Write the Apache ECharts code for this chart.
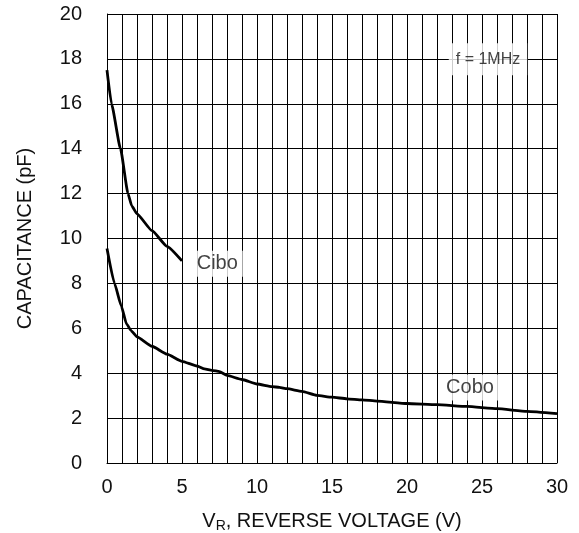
<!DOCTYPE html>
<html>
<head>
<meta charset="utf-8">
<script src="https://cdn.jsdelivr.net/npm/echarts@6/dist/echarts.min.js"></script>
<style>
  html, body { margin: 0; padding: 0; background: #fff; }
  #chart { width: 579px; height: 533px; }
</style>
</head>
<body>
<div id="chart"></div>
<script>
// Input capacitance (Cibo) vs reverse voltage
const ciboVoltage = [0, 0.3, 0.9, 1.4, 1.65, 2, 3, 4, 5];
const ciboCap     = [17.5, 16.0, 14.0, 12.0, 11.45, 11.1, 10.35, 9.65, 9.0];

// Output capacitance (Cobo) vs reverse voltage
const coboVoltage = [0, 0.5, 0.95, 1.3, 1.6, 2, 3, 4, 5, 6, 6.5, 7, 7.5, 8, 9, 10, 11, 11.5, 12, 13, 14, 15, 16, 17, 18, 20, 22, 24, 26, 28, 30];
const coboCap     = [9.55, 8.0, 7.0, 6.2, 5.9, 5.62, 5.2, 4.85, 4.53, 4.32, 4.19, 4.13, 4.07, 3.9, 3.72, 3.52, 3.4, 3.37, 3.31, 3.19, 3.01, 2.93, 2.86, 2.81, 2.76, 2.65, 2.6, 2.52, 2.42, 2.3, 2.2];

// In-plot annotations: text and anchor in data units
const noteText = ['Cibo', 'Cobo', 'f = 1MHz'];
const noteX    = [7.35, 24.2, 25.4];
const noteY    = [8.88, 3.36, 17.98];
const noteSize = [20, 20, 16];

const xTicks = [0, 5, 10, 15, 20, 25, 30];
const yTicks = [0, 2, 4, 6, 8, 10, 12, 14, 16, 18, 20];

const textColor = '#111';
const gridColor = '#000';
const font = 'Liberation Sans, Arial, sans-serif';

const zip = (a, b) => a.map((v, i) => [v, b[i]]);

const chart = echarts.init(document.getElementById('chart'), null, { renderer: 'canvas' });

chart.setOption({
  animation: false,
  backgroundColor: '#fff',
  grid: { left: 107, top: 14, width: 450, height: 449, containLabel: false, outerBoundsMode: 'none' },
  xAxis: {
    type: 'value',
    min: xTicks[0],
    max: xTicks[xTicks.length - 1],
    interval: 5,
    name: 'V{sub|R}, REVERSE VOLTAGE (V)',
    nameLocation: 'middle',
    nameGap: 46,
    nameTextStyle: {
      fontFamily: font,
      fontSize: 20,
      color: textColor,
      rich: {
        sub: { fontSize: 14, color: textColor, fontFamily: font, padding: [10, 0, 0, 0] }
      }
    },
    axisLine: { show: true, lineStyle: { color: gridColor, width: 1 } },
    axisTick: { show: false },
    axisLabel: { margin: 14, fontFamily: font, fontSize: 20, color: textColor },
    splitLine: { show: true, lineStyle: { color: gridColor, width: 1 } },
    minorTick: { show: false, splitNumber: 5 },
    minorSplitLine: { show: true, lineStyle: { color: gridColor, width: 1 } }
  },
  yAxis: {
    type: 'value',
    min: yTicks[0],
    max: yTicks[yTicks.length - 1],
    interval: 2,
    name: 'CAPACITANCE (pF)',
    nameLocation: 'middle',
    nameGap: 72,
    nameRotate: 90,
    nameTextStyle: { fontFamily: font, fontSize: 20, color: textColor },
    axisLine: { show: true, lineStyle: { color: gridColor, width: 1 } },
    axisTick: { show: false },
    axisLabel: { margin: 25, fontFamily: font, fontSize: 20, color: textColor },
    splitLine: { show: true, lineStyle: { color: gridColor, width: 1 } }
  },
  series: [
    {
      name: 'Cibo',
      type: 'line',
      data: zip(ciboVoltage, ciboCap),
      showSymbol: false,
      smooth: 0.15,
      smoothMonotone: 'x',
      lineStyle: { color: '#000', width: 2.8 },
      z: 5
    },
    {
      name: 'Cobo',
      type: 'line',
      data: zip(coboVoltage, coboCap),
      showSymbol: false,
      smooth: 0.15,
      smoothMonotone: 'x',
      lineStyle: { color: '#000', width: 2.8 },
      z: 5
    },
    {
      name: 'notes',
      type: 'scatter',
      symbolSize: 0,
      silent: true,
      z: 10,
      data: noteText.map((t, i) => ({
        value: [noteX[i], noteY[i]],
        label: {
          show: true,
          position: 'inside',
          formatter: t,
          fontFamily: font,
          fontSize: noteSize[i],
          color: textColor,
          backgroundColor: '#fff',
          padding: i === 2 ? [8, 7, 8, 7] : [3, 5, 3, 5]
        }
      }))
    }
  ]
});
</script>
</body>
</html>
